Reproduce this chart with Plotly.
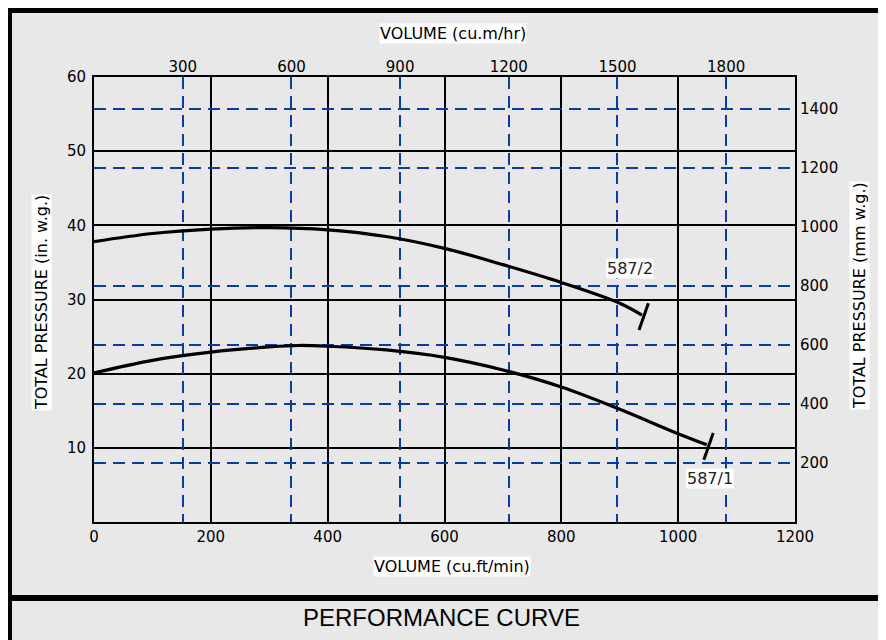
import plotly.graph_objects as go

# ---- data ----
flow_cfm = [0, 100, 200, 300, 350, 400, 500, 600, 700, 800, 900, 1000]
p_5872 = [37.8, 38.9, 39.5, 39.7, None, 39.4, 38.5, 36.9, 34.7, 32.3, 29.5, None]
p_5871 = [20.1, 21.8, 22.9, 23.6, 23.8, 23.7, 23.2, 22.2, 20.5, 18.2, 15.2, 11.9]
end_5872 = (938, 27.9)
end_5871 = (1049, 10.4)
tick_5872_x = [949, 933]
tick_5872_y = [29.5, 25.9]
tick_5871_x = [1060, 1044]
tick_5871_y = [12.0, 8.4]
label_names = ["587/2", "587/1"]
label_x = [917, 1054]
label_y = [34.2, 5.9]

x_ticks = [0, 200, 400, 600, 800, 1000, 1200]
y_ticks = [10, 20, 30, 40, 50, 60]
top_ticks = [300, 600, 900, 1200, 1500, 1800]
right_ticks = [200, 400, 600, 800, 1000, 1200, 1400]
right_grid = [200, 400, 600, 800, 1200, 1400]

BG = "#e8e8e8"
BLUE = "#0a3ca8"
FONT = "DejaVu Sans"

# page offset (body margin) and plot-area geometry in page pixels
OFF = 8
PL, PR, PT, PB = 94, 795, 77, 522
W, H = 886, 640
L, R, T, B = PL - OFF, PR - OFF, PT - OFF, PB - OFF


def px(xp):
    return (xp - PL) / (PR - PL)


def py(yp):
    return (PB - yp) / (PB - PT)


fig = go.Figure()

c2x = [x for x, y in zip(flow_cfm, p_5872) if y is not None] + [end_5872[0]]
c2y = [y for y in p_5872 if y is not None] + [end_5872[1]]
c1x = flow_cfm + [end_5871[0]]
c1y = p_5871 + [end_5871[1]]

line_style = dict(color="black", width=3.2, shape="spline", smoothing=1.0)
fig.add_trace(go.Scatter(x=c2x, y=c2y, mode="lines", line=line_style, hoverinfo="skip"))
fig.add_trace(go.Scatter(x=c1x, y=c1y, mode="lines", line=line_style, hoverinfo="skip"))
fig.add_trace(go.Scatter(x=tick_5872_x, y=tick_5872_y, mode="lines",
                         line=dict(color="black", width=3), hoverinfo="skip"))
fig.add_trace(go.Scatter(x=tick_5871_x, y=tick_5871_y, mode="lines",
                         line=dict(color="black", width=3), hoverinfo="skip"))
# dummy traces to register secondary axes
fig.add_trace(go.Scatter(x=[None], y=[None], xaxis="x2", yaxis="y", hoverinfo="skip"))
fig.add_trace(go.Scatter(x=[None], y=[None], xaxis="x", yaxis="y2", hoverinfo="skip"))
fig.add_trace(go.Scatter(x=[None], y=[None], xaxis="x", yaxis="y3", hoverinfo="skip"))

tickfont = dict(family=FONT, size=15, color="black")

fig.update_layout(
    width=W, height=H,
    margin=dict(l=L, r=W - R, t=T, b=H - B, pad=0),
    paper_bgcolor=BG, plot_bgcolor=BG,
    showlegend=False,
    font=dict(family=FONT, color="black"),
    xaxis=dict(range=[0, 1200], tickvals=x_ticks, ticks="", showgrid=True,
               gridcolor="black", gridwidth=1.5, showline=True, linecolor="black",
               linewidth=2, mirror=True, zeroline=False, tickfont=tickfont,
               fixedrange=True),
    yaxis=dict(range=[0, 60], tickvals=y_ticks, ticks="", showgrid=True,
               gridcolor="black", gridwidth=1.5, showline=True, linecolor="black",
               linewidth=2, mirror=True, zeroline=False, tickfont=tickfont,
               ticklabelstandoff=3),
    xaxis2=dict(range=[55, 1990], overlaying="x", side="top", tickvals=top_ticks,
                ticks="", showgrid=True, gridcolor=BLUE, gridwidth=2,
                griddash="12px,7px", zeroline=False, showline=False,
                tickfont=tickfont, ticklabelstandoff=1),
    yaxis2=dict(range=[0, 1508], overlaying="y", side="right", tickvals=right_ticks,
                ticks="", showgrid=False, zeroline=False, showline=False,
                tickfont=tickfont, ticklabelstandoff=4),
    yaxis3=dict(range=[0, 1508], overlaying="y", side="right", tickvals=right_grid,
                ticks="", showgrid=True, gridcolor=BLUE, gridwidth=2,
                griddash="12px,7px", showticklabels=False, zeroline=False,
                showline=False),
)

# curve labels
for name, lx, ly in zip(label_names, label_x, label_y):
    fig.add_annotation(x=lx, y=ly, xref="x", yref="y", text=name, showarrow=False,
                       bgcolor="white", borderpad=0, xanchor="center", yanchor="middle",
                       font=dict(family=FONT, size=16, color="#222"))

# axis titles (positions in page pixels)
title_font = dict(family=FONT, size=16, color="black")
titles = [
    ("VOLUME (cu.m/hr)", 453, 33, 0, True, title_font),
    ("VOLUME (cu.ft/min)", 452, 566, 0, True, title_font),
    ("TOTAL PRESSURE (in. w.g.)", 41, 303, -90, True, title_font),
    ("TOTAL PRESSURE (mm w.g.)", 859, 296, -90, True, title_font),
    ("PERFORMANCE CURVE", 441, 617, 0, False,
     dict(family="Liberation Sans", size=24, color="black")),
]
for text, tx, ty, ang, white, fnt in titles:
    fig.add_annotation(x=px(tx), y=py(ty), xref="paper", yref="paper", text=text,
                       showarrow=False, xanchor="center", yanchor="middle",
                       bgcolor="white" if white else "rgba(0,0,0,0)", borderpad=0,
                       textangle=ang, font=fnt)

# outer frame decoration (page pixels)
frame = [
    dict(x0=0, x1=W + 20, y0=7, y1=13),
    dict(x0=0, x1=12, y0=7, y1=H + 20),
    dict(x0=0, x1=W + 20, y0=595, y1=601),
]
for f in frame:
    fig.add_shape(type="rect", xref="paper", yref="paper",
                  x0=px(f["x0"]), x1=px(f["x1"]), y0=py(f["y1"]), y1=py(f["y0"]),
                  fillcolor="black", line=dict(width=0), layer="above")

fig.write_html("out.html")
